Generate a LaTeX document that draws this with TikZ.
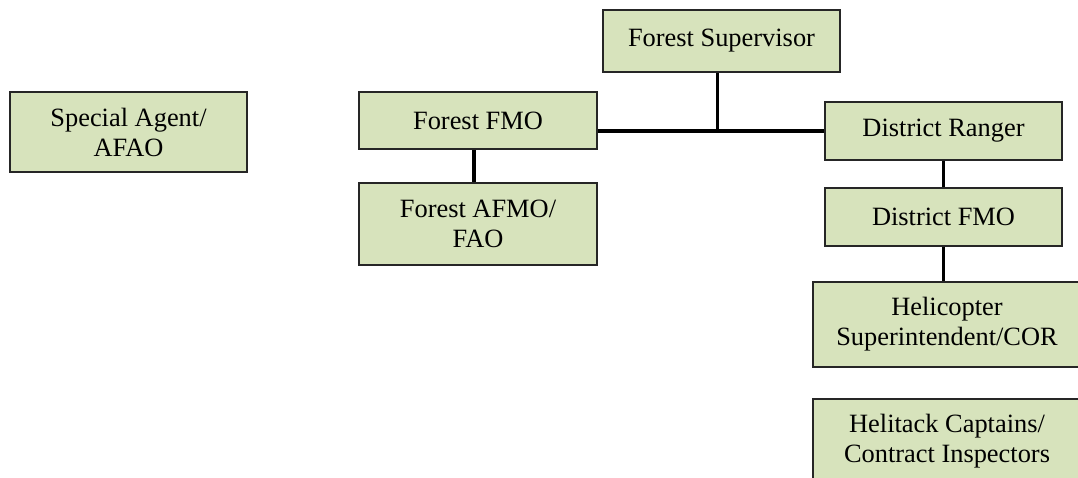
\documentclass[tikz,border=0pt]{standalone}
\usepackage{fontspec}
\setmainfont{Liberation Serif}
\usepackage{tikz}
\usetikzlibrary{positioning}
\definecolor{boxgreen}{HTML}{D7E3BC}
\tikzset{font=\fontsize{19.8}{22.5}\selectfont}
\tikzset{orgbox/.style={draw=black!85, line width=1.3pt, fill=boxgreen, align=center,
    inner sep=0pt, minimum width=#1*0.75pt}}
\tikzset{link/.style={line width=2.3pt, black}}

\begin{document}
\begin{tikzpicture}[x=0.75pt,y=-0.75pt]
  \useasboundingbox (0,0) rectangle (1078,478);
  \clip (0,0) rectangle (1078,478);

  \node[orgbox=237, minimum height=46.5pt] (sup)    at (721.5,41)  {Forest Supervisor};
  \node[orgbox=238, minimum height=43pt]   (ffmo)   at (478,120.5) {Forest FMO};
  \node[orgbox=238, minimum height=61.5pt] (fafmo)  at (478,224)   {Forest AFMO/\\FAO};
  \node[orgbox=237, minimum height=60pt]   (agent)  at (128.5,132) {Special Agent/\\AFAO};
  \node[orgbox=237, minimum height=43.5pt] (ranger) at (943.5,131) {District Ranger};
  \node[orgbox=237, minimum height=43.5pt] (dfmo)   at (943.5,217) {District FMO};
  \node[orgbox=268, minimum height=64pt]   (heli)   at (947,324.5) {Helicopter\\Superintendent/COR};
  \node[orgbox=268, minimum height=64pt]   (tack)   at (947,441.5) {Helitack Captains/\\Contract Inspectors};

  % forest level
  \coordinate (hub) at (sup.south |- ranger.west);
  \draw[link] ([xshift=-3pt]sup.south) -- ([xshift=-3pt]hub);
  \draw[link] (ffmo.east |- ranger.west) -- (ranger.west);
  \draw[link] ([xshift=-3pt]ffmo.south) -- ([xshift=-3pt]fafmo.north);

  % district level
  \draw[link] (ranger.south) -- (dfmo.north);
  \draw[link] (dfmo.south) -- (dfmo.south |- heli.north);
\end{tikzpicture}
\end{document}
